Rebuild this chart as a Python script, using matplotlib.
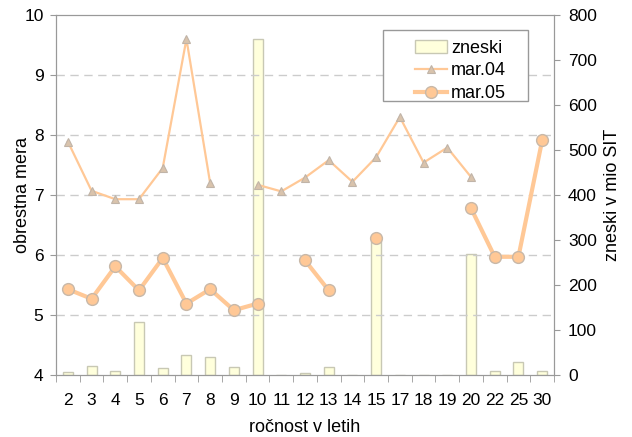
"""
Obrestne mere in zneski po ročnosti
"""
import numpy as np
import matplotlib
matplotlib.use("Agg")
import matplotlib.pyplot as plt
from matplotlib.patches import Rectangle

plt.rcParams['font.family'] = ['Liberation Sans', 'DejaVu Sans']

# categories on x axis (years to maturity)
rocnost = ['2', '3', '4', '5', '6', '7', '8', '9', '10', '11', '12', '13',
           '14', '15', '17', '18', '19', '20', '22', '25', '30']

# amounts in mio SIT (right axis)
zneski = [6, 20, 8, 118, 15, 44, 39, 17, 746, 0, 4, 18,
          0, 305, 0, 0, 0, 268, 8, 28, 8]

# interest rates, None where there is no value
mar04 = [7.89, 7.07, 6.93, 6.93, 7.45, 9.60, 7.20, None, 7.17, 7.06, 7.29,
         7.58, 7.22, 7.63, 8.30, 7.54, 7.79, 7.30, None, None, None]
mar05 = [5.43, 5.27, 5.81, 5.41, 5.95, 5.19, 5.43, 5.08, 5.19, None, 5.91,
         5.41, None, 6.28, None, None, None, 6.78, 5.97, 5.97, 7.91]

line_col = '#FFC896'
grey = '#999999'

x = np.arange(len(rocnost))
m04 = np.array([np.nan if v is None else v for v in mar04])
m05 = np.array([np.nan if v is None else v for v in mar05])

fig = plt.figure(figsize=(6.32, 4.37), dpi=100)
ax = fig.add_axes([56 / 632, 1 - 375 / 437, 498 / 632, 360 / 437])
ax2 = ax.twinx()

# bars on the right axis, drawn behind the lines
ax2.bar(x, zneski, width=0.42, color='#FFFFDC', edgecolor='#C8C8B4',
        linewidth=1, label='zneski', zorder=1)
ax2.set_ylim(0, 800)
ax2.set_yticks(range(0, 801, 100))

ax.set_zorder(ax2.get_zorder() + 1)
ax.patch.set_visible(False)

l1, = ax.plot(x, m04, color=line_col, lw=1.6, marker='^', markersize=5.5,
              markerfacecolor='#D9C3AC', markeredgecolor='#C0B4A8',
              markeredgewidth=0.8, label='mar.04')
l2, = ax.plot(x, m05, color=line_col, lw=3, marker='o', markersize=8.5,
              markerfacecolor='#FFC896', markeredgecolor='#C8B8A8',
              markeredgewidth=1, label='mar.05')

ax.set_ylim(4, 10)
ax.set_xlim(-0.5, len(rocnost) - 0.5)
ax.set_yticks(range(4, 11))
for g in range(5, 10):
    ax.axhline(g, color='#CCCCCC', lw=1, dashes=(6, 4), zorder=0)

# category labels in the middle, ticks between categories
ax.set_xticks(x)
ax.set_xticklabels(rocnost)
ax.set_xticks(np.arange(-0.5, len(rocnost)), minor=True)
ax.tick_params(axis='x', which='major', length=0, pad=13, labelsize=12.5)
ax.tick_params(axis='x', which='minor', length=5, color=grey, direction='out')
ax.tick_params(axis='y', labelsize=12.5, length=4, color=grey, pad=5)
ax2.tick_params(axis='y', labelsize=12.5, length=4, color=grey, pad=6)

for a in (ax, ax2):
    for s in a.spines.values():
        s.set_color(grey)

ax.set_xlabel('ročnost v letih', fontsize=13, labelpad=8)
ax.set_ylabel('obrestna mera', fontsize=13)
ax2.set_ylabel('zneski v mio SIT', fontsize=13)
ax.yaxis.set_label_coords(-0.051, 0.5)
ax2.yaxis.set_label_coords(1.101, 0.5)

# legend box drawn separately, wider padding at the sides
box = Rectangle((383 / 632, 1 - 101 / 437), 145 / 632, 71 / 437,
                transform=fig.transFigure, facecolor='white',
                edgecolor=grey, linewidth=1, zorder=4)
ax.add_patch(box)

bars = ax2.patches[0]
leg = ax.legend([bars, l1, l2], ['zneski', 'mar.04', 'mar.05'],
                loc='upper left', bbox_to_anchor=(406 / 632, 1 - 31 / 437),
                bbox_transform=fig.transFigure,
                fontsize=13, frameon=False, borderpad=0,
                labelspacing=0.3, handlelength=1.75, handletextpad=0.25)
leg.set_zorder(5)

fig.savefig('out.png', dpi=100)
